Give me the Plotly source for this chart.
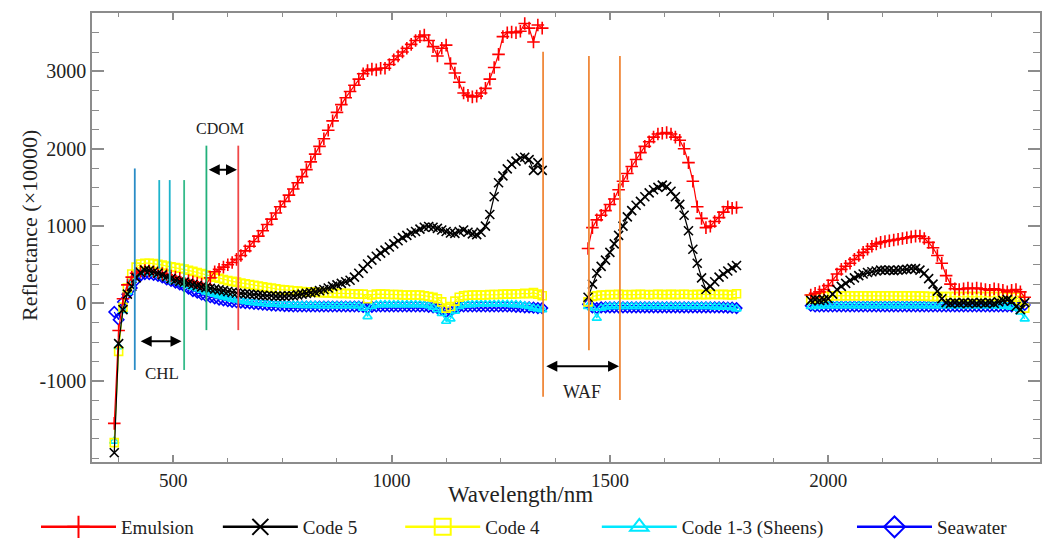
import plotly.graph_objects as go

# ---------------- data ----------------
wl_seg1 = list(range(365, 1346, 10))   # 99 samples
wl_seg2 = list(range(1450, 1791, 10))  # 35 samples
wl_seg3 = list(range(1960, 2451, 10))  # 50 samples

emulsion_1 = [-1550, -350, 60, 240, 340, 390, 415, 425, 420, 410,
              400, 385, 370, 355, 340, 325, 310, 295, 280, 265,
              250, 240, 330, 410, 440, 470, 500, 530, 570, 620,
              680, 740, 800, 870, 940, 1020, 1090, 1170, 1250, 1320,
              1400, 1480, 1560, 1640, 1730, 1830, 1930, 2030, 2130, 2240,
              2360, 2470, 2570, 2660, 2740, 2820, 2900, 2970, 3010, 3030,
              3020, 3040, 3040, 3090, 3150, 3200, 3250, 3300, 3350, 3400,
              3450, 3470, 3400, 3320, 3200, 3300, 3340, 3100, 2980, 2860,
              2720, 2690, 2670, 2680, 2720, 2780, 2900, 3050, 3220, 3450,
              3500, 3510, 3500, 3520, 3620, 3560, 3380, 3600, 3560]
emulsion_2 = [710, 980, 1080, 1140, 1200, 1280, 1350, 1470, 1580, 1680,
              1770, 1860, 1950, 2030, 2090, 2150, 2190, 2200, 2210, 2190,
              2150, 2110, 2000, 1820, 1580, 1250, 1100, 980, 1000, 1060,
              1110, 1180, 1250, 1230, 1240]
emulsion_3 = [110, 130, 150, 180, 230, 300, 380, 440, 480, 520,
              570, 620, 660, 700, 740, 770, 790, 800, 810, 820,
              830, 840, 850, 860, 870, 870, 840, 790, 720, 620,
              520, 360, 250, 190, 180, 190, 200, 190, 200, 190,
              180, 170, 190, 180, 170, 150, 170, 180, 150, 80]

code5_1 = [-1930, -520, -80, 120, 220, 330, 400, 430, 425, 410,
           390, 370, 345, 320, 300, 285, 275, 260, 245, 230,
           215, 205, 195, 185, 175, 165, 155, 145, 135, 130,
           125, 120, 115, 110, 105, 100, 100, 95, 95, 95,
           100, 100, 110, 120, 130, 140, 150, 165, 180, 200,
           220, 240, 260, 280, 300, 340, 390, 450, 510, 560,
           610, 650, 690, 730, 770, 810, 850, 880, 910, 930,
           960, 985, 995, 985, 970, 950, 930, 910, 905, 930,
           950, 920, 900, 890, 920, 1000, 1150, 1380, 1560, 1650,
           1740, 1800, 1840, 1880, 1890, 1860, 1720, 1820, 1720]
code5_2 = [80, 250, 390, 480, 560, 660, 770, 880, 1000, 1120,
           1200, 1270, 1320, 1380, 1430, 1470, 1500, 1530, 1510, 1450,
           1380, 1280, 1140, 940, 700, 520, 330, 180, 220, 280,
           340, 380, 420, 460, 490]
code5_3 = [40, 50, 40, 50, 60, 120, 180, 220, 260, 300,
           330, 360, 380, 400, 410, 420, 430, 430, 430, 425,
           430, 435, 440, 450, 450, 430, 390, 320, 250, 160,
           60, 10, 0, 10, 0, 10, 0, 10, 0, 10,
           0, 10, 0, 20, 40, 50, 30, -40, -80, 10]

code4_1 = [-1800, -620, -50, 200, 380, 470, 510, 520, 520, 515,
           505, 495, 485, 475, 465, 455, 445, 430, 415, 400,
           385, 370, 355, 340, 325, 310, 295, 285, 275, 265,
           255, 245, 235, 225, 215, 205, 200, 190, 180, 175,
           170, 165, 160, 155, 150, 150, 145, 140, 140, 135,
           135, 130, 130, 130, 125, 125, 120, 120, 60, 110,
           120, 120, 120, 115, 115, 115, 110, 110, 110, 110,
           110, 100, 90, 80, 60, 20, -60, -40, 30, 80,
           100, 105, 110, 110, 110, 110, 115, 115, 115, 120,
           120, 120, 125, 125, 130, 125, 140, 120, 100]
code4_2 = [20, 90, 100, 110, 110, 115, 112, 118, 115, 112,
           116, 114, 118, 115, 112, 116, 118, 114, 115, 117,
           114, 116, 118, 115, 113, 117, 116, 114, 118, 116,
           115, 117, 114, 110, 125]
code4_3 = [60, 70, 80, 90, 95, 100, 100, 100, 100, 100,
           100, 100, 100, 100, 100, 100, 100, 100, 100, 100,
           100, 100, 100, 100, 100, 95, 95, 90, 90, 90,
           90, 90, 90, 90, 90, 90, 90, 90, 90, 90,
           90, 90, 90, 90, 90, 85, 80, 80, 40, -60]

sheens_1 = [-1780, -560, -90, 150, 300, 370, 400, 405, 400, 385,
            370, 350, 330, 310, 290, 270, 250, 230, 210, 190,
            170, 150, 135, 120, 100, 85, 70, 55, 45, 35,
            25, 15, 10, 5, 0, -5, -10, -10, -15, -15,
            -20, -20, -20, -25, -25, -25, -25, -30, -30, -30,
            -30, -30, -30, -30, -30, -30, -30, -60, -170, -40,
            -20, -15, -15, -15, -15, -15, -15, -15, -15, -15,
            -15, -20, -30, -50, -80, -130, -230, -200, -100, -40,
            -20, -15, -15, -10, -10, -10, -10, -10, -10, -10,
            -10, -15, -15, -20, -30, -40, -60, -70, -80]
sheens_2 = [-40, -60, -190, -60, -45, -40, -40, -40, -40, -40,
            -40, -40, -40, -40, -40, -40, -40, -40, -40, -40,
            -40, -40, -40, -40, -40, -40, -40, -40, -40, -45,
            -45, -50, -50, -55, -70]
sheens_3 = [-40, -40, -35, -30, -30, -30, -30, -30, -30, -30,
            -30, -30, -30, -30, -30, -30, -30, -30, -30, -30,
            -30, -30, -30, -30, -30, -30, -30, -30, -30, -30,
            -30, -30, -30, -30, -30, -30, -30, -30, -30, -30,
            -30, -30, -30, -35, -35, -40, -50, -60, -110, -200]

seawater_1 = [-110, -210, 20, 120, 200, 300, 360, 380, 380, 370,
              355, 335, 310, 290, 270, 245, 220, 190, 160, 140,
              115, 95, 80, 65, 50, 40, 30, 20, 15, 10,
              5, 0, -5, -10, -15, -20, -25, -30, -30, -35,
              -35, -40, -40, -40, -40, -40, -40, -40, -40, -40,
              -40, -40, -40, -40, -40, -40, -40, -45, -60, -45,
              -40, -40, -40, -40, -40, -40, -40, -40, -40, -40,
              -40, -40, -45, -50, -60, -80, -110, -100, -60, -45,
              -40, -40, -40, -40, -40, -40, -40, -40, -40, -40,
              -40, -40, -45, -45, -50, -50, -55, -60, -60]
seawater_2 = [-10, -50, -60, -50, -50, -50, -50, -50, -50, -50,
              -50, -50, -50, -50, -50, -50, -50, -50, -50, -50,
              -50, -50, -50, -50, -50, -50, -50, -50, -50, -50,
              -50, -50, -55, -55, -60]
seawater_3 = [-30, -40, -40, -40, -40, -40, -40, -40, -40, -40,
              -40, -40, -40, -40, -40, -40, -40, -40, -40, -40,
              -40, -40, -40, -40, -40, -40, -40, -40, -40, -40,
              -40, -40, -40, -40, -40, -40, -40, -40, -40, -40,
              -40, -40, -40, -40, -40, -40, -40, -30, -20, -20]

x_ticks = [500, 1000, 1500, 2000]
y_ticks = [-1000, 0, 1000, 2000, 3000]
y_tick_labels = ["-1000", "0", "1000", "2000", "3000"]

# band markers (wavelength positions, nm) and their extents
band_lines = [  # x, y0, y1, color
    (412, -860, 1745, "#2a8cc6"),
    (468, 450, 1595, "#1db4cc"),
    (492, 250, 1595, "#1db4cc"),
    (525, -860, 1595, "#35bb8a"),
    (576, -345, 2040, "#22b07a"),
    (649, -345, 2040, "#f04848"),
    (1347, -1208, 3254, "#f0883a"),
    (1452, -604, 3198, "#f0883a"),
    (1523, -1250, 3198, "#f0883a"),
]
band_arrows = [  # x0, x1, y, label, label_x, label_y, size
    (578, 646, 1730, "CDOM", 607, 2266, 16),
    (422, 519, -488, "CHL", 474, -900, 17),
    (1351, 1521, -811, "WAF", 1435, -1143, 18),
]

# ---------------- figure ----------------
def join(a, b, c):
    return a + [None] + b + [None] + c

wl = join(wl_seg1, wl_seg2, wl_seg3)

NB = "\u00a0"
series = [
    # name, seg data, color, symbol, size, rank, legend padding
    ("Seawater", (seawater_1, seawater_2, seawater_3), "#0000ff", "diamond-open", 8, 5, 0),
    ("Code 1-3 (Sheens)", (sheens_1, sheens_2, sheens_3), "#00e8ff", "triangle-up-open", 8, 4, 5),
    ("Code 4", (code4_1, code4_2, code4_3), "#ffff00", "square-open", 8, 3, 11),
    ("Emulsion", (emulsion_1, emulsion_2, emulsion_3), "#ff0000", "cross-thin", 9, 1, 4),
    ("Code 5", (code5_1, code5_2, code5_3), "#000000", "x-thin", 9, 2, 8),
]

fig = go.Figure()
for name, segs, color, sym, size, rank, pad in series:
    fig.add_trace(go.Scatter(
        x=wl, y=join(*segs), name=name, mode="lines+markers",
        connectgaps=False, showlegend=False,
        line=dict(color=color, width=1.2),
        marker=dict(symbol=sym, size=size, color=color,
                    line=dict(color=color, width=1.6)),
    ))
# legend entries (larger symbols, as in the reference legend)
for name, segs, color, sym, size, rank, pad in series:
    fig.add_trace(go.Scatter(
        x=[None], y=[None], name=name + NB * pad, mode="lines+markers", legendrank=rank,
        line=dict(color=color, width=2.5),
        marker=dict(symbol=sym, size=17, color=color,
                    line=dict(color=color, width=2)),
    ))

shapes = []
for x, y0, y1, c in band_lines:
    shapes.append(dict(type="line", xref="x", yref="y", x0=x, x1=x, y0=y0, y1=y1,
                       line=dict(color=c, width=1.8)))

annotations = []
for x0, x1, y, label, lx, ly, fs in band_arrows:
    annotations.append(dict(x=x1, y=y, ax=x0, ay=y, xref="x", yref="y",
                            axref="x", ayref="y", text="", showarrow=True,
                            arrowhead=2, arrowside="end+start", arrowsize=1.1,
                            arrowwidth=2, arrowcolor="black"))
    annotations.append(dict(x=lx, y=ly, xref="x", yref="y", text=label,
                            showarrow=False,
                            font=dict(family="Liberation Serif", size=fs, color="#222")))
annotations.append(dict(x=(520 - 92) / 948, y=(462 - 494) / 449, xref="paper", yref="paper",
                        text="Wavelength/nm", showarrow=False, yanchor="middle",
                        font=dict(family="Liberation Serif", size=23, color="#222")))
annotations.append(dict(x=(29 - 92) / 948, y=(462 - 226) / 449, xref="paper", yref="paper",
                        text="Reflectance (×10000)", showarrow=False, textangle=-90,
                        xanchor="center", yanchor="middle",
                        font=dict(family="Liberation Serif", size=22, color="#222")))

axis_common = dict(showline=True, linecolor="#8c8c8c", linewidth=1.5, mirror="ticks",
                   ticks="inside", tickcolor="#8c8c8c", tickwidth=1.5,
                   showgrid=False, zeroline=False)

fig.update_layout(
    width=1044, height=541,
    margin=dict(l=92, r=4, t=13, b=79, autoexpand=False),
    paper_bgcolor="white", plot_bgcolor="white",
    font=dict(family="Liberation Serif", color="#222"),
    shapes=shapes, annotations=annotations,
    xaxis=dict(range=[314, 2485], tickvals=x_ticks, ticklen=7,
               minor=dict(ticks="inside", dtick=125, tick0=0, ticklen=4,
                          tickcolor="#8c8c8c", tickwidth=1.2),
               tickfont=dict(family="Liberation Serif", size=19, color="#222"),
               **axis_common),
    yaxis=dict(range=[-2050, 3755], tickvals=y_ticks, ticktext=y_tick_labels, ticklen=12,
               minor=dict(ticks="inside", dtick=250, tick0=0, ticklen=7,
                          tickcolor="#8c8c8c", tickwidth=1.2),
               tickfont=dict(family="Liberation Serif", size=20, color="#222"),
               **axis_common),
    legend=dict(orientation="h", xref="paper", yref="paper",
                x=(36 - 92) / 948, xanchor="left", y=(462 - 527) / 449, yanchor="middle",
                itemwidth=75, font=dict(family="Liberation Serif", size=19, color="#222"),
                bgcolor="rgba(0,0,0,0)"),
    showlegend=True,
)

fig.write_html("out.html")
